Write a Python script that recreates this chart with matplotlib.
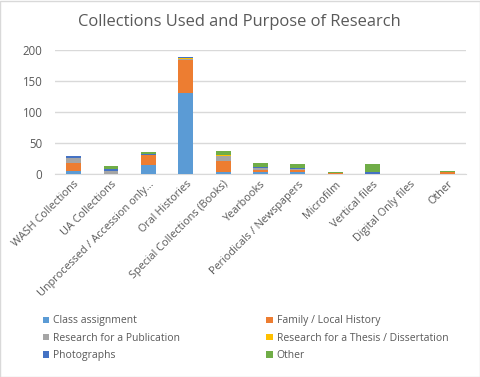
import matplotlib.pyplot as plt
import matplotlib.patches as mpatches
import numpy as np

plt.rcParams['font.family'] = ['Open Sans', 'DejaVu Sans']

# Data
categories = ["WASH Collections", "UA Collections", "Unprocessed / Accession only...",
              "Oral Histories", "Special Collections (Books)", "Yearbooks",
              "Periodicals / Newspapers", "Microfilm", "Vertical files",
              "Digital Only files", "Other"]
class_assignment = [5, 0, 14, 131, 4, 3, 3, 0, 0, 0, 0]
family_history = [13, 0, 16, 53, 17, 4, 4, 1, 0, 0, 4]
publication = [8, 5, 1, 1, 8, 3, 1, 0, 0, 0, 0]
thesis = [0, 0, 0, 2, 2, 0, 0, 0, 0, 0, 0]
photographs = [3, 3, 2, 2, 0, 1, 1, 0, 3, 0, 0]
other = [0, 5, 3, 0, 6, 7, 7, 2, 13, 0, 1]

series = [
    ("Class assignment", class_assignment, "#5B9BD5"),
    ("Family / Local History", family_history, "#ED7D31"),
    ("Research for a Publication", publication, "#A5A5A5"),
    ("Research for a Thesis / Dissertation", thesis, "#FFC000"),
    ("Photographs", photographs, "#4472C4"),
    ("Other", other, "#70AD47"),
]

fig = plt.figure(figsize=(4.81, 3.77), dpi=100)
ax = fig.add_axes([0.1143, 0.5385, 0.8545, 0.3289])

x = np.arange(len(categories))
bottom = np.zeros(len(categories))
handles = {}
for name, vals, color in series:
    vals = np.array(vals, dtype=float)
    bars = ax.bar(x, vals, width=0.4, bottom=bottom, color=color, label=name, zorder=3)
    handles[name] = bars
    bottom += vals

ax.set_xlim(-0.5, len(categories) - 0.5)
ax.set_ylim(0, 200)
ax.set_yticks([0, 50, 100, 150, 200])
ax.yaxis.grid(True, color="#D9D9D9", linewidth=1, zorder=0)
for side in ["top", "right", "left"]:
    ax.spines[side].set_visible(False)
ax.spines["bottom"].set_color("#D9D9D9")
ax.tick_params(axis="both", length=0, colors="#595959", labelsize=7.8)
ax.tick_params(axis="y", labelsize=8.3, pad=9)
ax.set_xticks(x)
ax.set_xticklabels(categories, rotation=45, ha="right", rotation_mode="anchor")

fig.text(0.497, 0.942, "Collections Used and Purpose of Research", ha="center", va="center",
         fontsize=11.9, color="#595959")

order = ["Class assignment", "Research for a Publication", "Photographs",
         "Family / Local History", "Research for a Thesis / Dissertation", "Other"]
fig.legend([handles[n] for n in order], order, ncol=2, loc="upper left",
           bbox_to_anchor=(0.069, 0.188), frameon=False, fontsize=7.5,
           handlelength=0.6, handleheight=0.6, handletextpad=0.4,
           columnspacing=8.3, labelspacing=0.6, labelcolor="#595959")

fig.patches.append(mpatches.Rectangle((0.001, 0.001), 0.997, 0.997, transform=fig.transFigure,
                                      fill=False, edgecolor="#D9D9D9", linewidth=1))

fig.savefig("out.png", dpi=100)
